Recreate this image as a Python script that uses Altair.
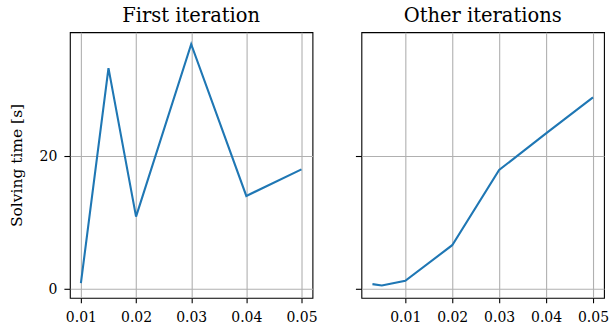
import altair as alt
import pandas as pd

# First iteration
first_x = [0.01, 0.015, 0.02, 0.03, 0.04, 0.05]
first_y = [0.9, 33.2, 10.9, 36.8, 14.0, 18.0]

# Other iterations
other_x = [0.003, 0.005, 0.01, 0.02, 0.03, 0.04, 0.05]
other_y = [0.75, 0.55, 1.25, 6.6, 17.9, 23.4, 28.8]

x_ticks = [0.01, 0.02, 0.03, 0.04, 0.05]
y_ticks = [0, 20]

FONT = "DejaVu Serif"
W, H = 243, 266
y_dom = [-1.3, 38.6]

df1 = pd.DataFrame({"x": first_x, "y": first_y})
df2 = pd.DataFrame({"x": other_x, "y": other_y})

def panel(df, title, xdom, show_y):
    yaxis = alt.Axis(values=y_ticks, title="Solving time [s]" if show_y else None,
                     labels=show_y, tickSize=6, labelPadding=7, titlePadding=14.5)
    return alt.Chart(df, title=alt.TitleParams(title, fontSize=19.5, font=FONT,
                                               fontWeight="normal", offset=6, color="black")).mark_line(
        color="#1f77b4", strokeWidth=2.1, clip=True
    ).encode(
        x=alt.X("x:Q", scale=alt.Scale(domain=xdom, nice=False, zero=False),
                axis=alt.Axis(values=x_ticks, format=".2f", title=None, tickSize=5,
                              labelPadding=8)),
        y=alt.Y("y:Q", scale=alt.Scale(domain=y_dom, nice=False, zero=False), axis=yaxis),
    ).properties(width=W, height=H)

left = panel(df1, "First iteration", [0.008, 0.052], True)
right = panel(df2, "Other iterations", [0.00065, 0.05235], False)

chart = alt.hconcat(left, right, spacing=49, bounds="flush").properties(
    padding={"left": 9, "top": 4, "right": 0, "bottom": 2}, background="white"
).configure_view(stroke="black", strokeWidth=1.1).configure_axis(
    domain=False, grid=True, gridColor="#b0b0b0", gridWidth=1.1,
    tickColor="black", tickWidth=1.1,
    labelFont=FONT, labelFontSize=14, labelColor="black",
    titleFont=FONT, titleFontSize=15.5, titleFontWeight="normal", titleColor="black",
)

chart.save("out.html", embed_options={"renderer": "svg", "actions": False})
